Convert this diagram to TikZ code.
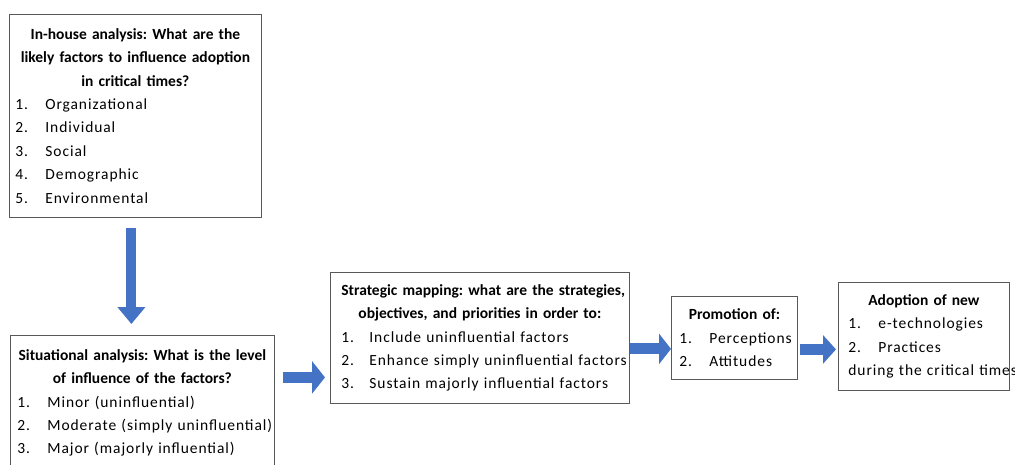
\documentclass[tikz,border=0pt]{standalone}
\usepackage{fontspec}
\setmainfont{Carlito}[LetterSpace=6, BoldFeatures={LetterSpace=0}]
\usetikzlibrary{arrows.meta,positioning}
\definecolor{arrowblue}{HTML}{4472C4}
\definecolor{boxgray}{HTML}{595959}
\newcommand{\boxhead}[1]{{\centering\bfseries #1\par}}
\newcommand{\itm}[3][30pt]{\makebox[#1][l]{#2}\mbox{#3}\par}
\frenchspacing
\begin{document}
\begin{tikzpicture}[x=1pt, y=-1pt,
    box/.style={draw=boxgray, line width=0.8pt, anchor=north west, align=left,
                inner ysep=0pt, font=\fontsize{15.5}{23.4}\selectfont},
    blockarrow/.style={draw=arrowblue, line width=11pt}]
  \useasboundingbox (0,0) rectangle (1015,465);
  \clip (0,0) rectangle (1015,465);

  \node[box, inner xsep=6pt, text width=240pt, minimum width=252pt, minimum height=203pt] (inhouse) at (9,14) {%
    \boxhead{In-house analysis: What are the\\likely factors to influence adoption\\in critical times?}
    \itm{1.}{Organizational}
    \itm{2.}{Individual}
    \itm{3.}{Social}
    \itm{4.}{Demographic}
    \itm{5.}{Environmental}};
  \node[box, inner xsep=7pt, text width=250pt, minimum width=264pt, minimum height=135pt] (situational) at (10,335) {%
    \boxhead{\mbox{Situational analysis: What is the level}\\of influence of the factors?}
    \itm{1.}{Minor (uninfluential)}
    \itm{2.}{Moderate (simply uninfluential)}
    \itm{3.}{Major (majorly influential)}};
  \node[box, inner xsep=11pt, text width=277pt, minimum width=299pt, minimum height=131pt] (strategic) at (330,272) {%
    \boxhead{\mbox{Strategic mapping: what are the strategies,}\\objectives, and priorities in order to:}
    \itm[28pt]{1.}{Include uninfluential factors}
    \itm[28pt]{2.}{Enhance simply uninfluential factors}
    \itm[28pt]{3.}{Sustain majorly influential factors}};
  \node[box, inner xsep=8pt, text width=110pt, minimum width=126pt, minimum height=83pt] (promotion) at (671,296) {%
    \boxhead{Promotion of:}
    \itm{1.}{Perceptions}
    \itm{2.}{Attitudes}};
  \node[box, inner xsep=10pt, text width=151pt, minimum width=171pt, minimum height=108pt] (adoption) at (838,282) {%
    \boxhead{Adoption of new}
    \itm{1.}{e-technologies}
    \itm{2.}{Practices}
    \mbox{during the critical times}\par};

  % block arrows between the stages
  \draw[blockarrow, line width=10pt, -{Triangle[width=27pt,length=17pt]}, shorten <=10pt, shorten >=11pt]
    ([xshift=-4pt]inhouse.south) -- ([xshift=-4pt]inhouse.south |- situational.north);
  \draw[blockarrow, -{Triangle[width=32pt,length=13pt]}, shorten <=8pt, shorten >=5pt]
    ([yshift=-39.5pt]strategic.west -| situational.east) -- ([yshift=-39.5pt]strategic.west);
  \draw[blockarrow, -{Triangle[width=30pt,length=12pt]}]
    ([yshift=-11pt]strategic.east) -- ([yshift=-11pt]strategic.east -| promotion.west);
  \draw[blockarrow, -{Triangle[width=28pt,length=13pt]}, shorten <=2pt, shorten >=2pt]
    ([yshift=-11.5pt]promotion.east) -- ([yshift=-11.5pt]promotion.east -| adoption.west);
\end{tikzpicture}
\end{document}
